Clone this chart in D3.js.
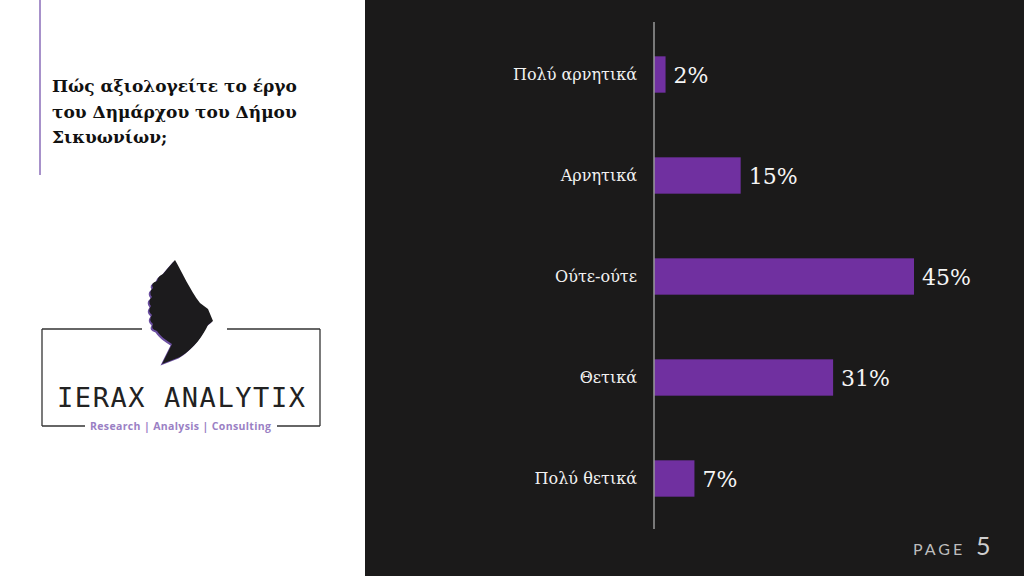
<!DOCTYPE html>
<html><head><meta charset="utf-8">
<script src="https://cdn.jsdelivr.net/npm/d3@7/dist/d3.min.js"></script>
<style>html,body{margin:0;padding:0;background:#1b1a1a;}svg{display:block;}</style>
</head><body>
<svg id="c" width="1024" height="576"></svg>
<script>
const categories = ["Πολύ αρνητικά", "Αρνητικά", "Ούτε-ούτε", "Θετικά", "Πολύ θετικά"];
const values = [2, 15, 45, 31, 7];
const valueLabels = ["2%", "15%", "45%", "31%", "7%"];
const titleLines = ["Πώς αξιολογείτε το έργο", "του Δημάρχου του Δήμου", "Σικυωνίων;"];

const svg = d3.select("#c");
// backgrounds
svg.append("rect").attr("x",0).attr("y",0).attr("width",1024).attr("height",576).attr("fill","#1b1a1a");
svg.append("rect").attr("x",0).attr("y",0).attr("width",365).attr("height",576).attr("fill","#ffffff");
svg.append("line").attr("x1",40).attr("x2",40).attr("y1",0).attr("y2",175).attr("stroke","#8a6cb8").attr("stroke-width",1.5);

// title
const t = svg.append("text").attr("font-family","'DejaVu Serif', serif").attr("font-weight","bold").attr("font-size",17).attr("fill","#111");
titleLines.forEach((l,i)=>{
  t.append("tspan").attr("x",52).attr("y",92+i*25.5).text(l);
});

// logo
const logo = svg.append("g");
const fr = {stroke:"#333", w:1.3};
function ln(x1,y1,x2,y2){logo.append("line").attr("x1",x1).attr("y1",y1).attr("x2",x2).attr("y2",y2).attr("stroke",fr.stroke).attr("stroke-width",fr.w);}
ln(42,329,142,329); ln(227,329,320,329);
ln(42,329,42,426); ln(320,329,320,426);
ln(42,426,85,426); ln(277,426,320,426);
const birdPath = "M175,260 C182,272 190,290 200,303 L208,309 L213,321 L208,325 C203,335 195,348 180,357 L162,364 L172,344 C166,340 160,336 157,331 Q150,329 153,324 Q148,320 152,315 Q147,311 151,306 Q147,301 152,297 Q148,292 153,288 Q150,283 157,281 Q158,276 163,274 L168,268 Z";
logo.append("path").attr("d",birdPath).attr("fill","#6b4fa0").attr("transform","translate(-1.5,1.5)");
logo.append("path").attr("d",birdPath).attr("fill","#1c1b1d");
logo.append("text").attr("x",57).attr("y",407).attr("font-family","'DejaVu Sans Mono', monospace").attr("font-size",27)
  .attr("fill","#222").attr("textLength",248).attr("lengthAdjust","spacing").text("IERAX ANALYTIX");
logo.append("text").attr("x",90).attr("y",430).attr("font-family","'Open Sans', sans-serif").attr("font-weight","700").attr("font-size",10.5)
  .attr("fill","#9a80c4").attr("textLength",181).attr("lengthAdjust","spacing").text("Research | Analysis | Consulting");

// chart
const x0 = 654;
const x = d3.scaleLinear().domain([0,45]).range([x0, 914]);
const y = d3.scaleBand().domain(categories).range([24,529]).paddingInner(0.64).paddingOuter(0.32);

svg.selectAll("rect.bar").data(categories).enter().append("rect").attr("class","bar")
  .attr("x",x(0)).attr("y",d=>y(d)).attr("width",(d,i)=>x(values[i])-x(0)).attr("height",y.bandwidth())
  .attr("fill","#7030a0");

const yAxis = d3.axisLeft(y).tickSize(0).tickPadding(17);
const ga = svg.append("g").attr("transform",`translate(${x0},0)`).call(yAxis);
ga.select(".domain").remove();
ga.selectAll("text").attr("font-family","'DejaVu Serif', serif").attr("font-size",16).attr("fill","#f2f2f2");
svg.append("line").attr("x1",x0).attr("x2",x0).attr("y1",22).attr("y2",529).attr("stroke","#9a9a9a").attr("stroke-width",1.5);

svg.selectAll("text.val").data(categories).enter().append("text").attr("class","val")
  .attr("x",(d,i)=>x(values[i])+8).attr("y",d=>y(d)+y.bandwidth()/2).attr("dy","0.38em")
  .attr("font-family","'DejaVu Serif', serif").attr("font-size",22).attr("fill","#f5f5f5")
  .text((d,i)=>valueLabels[i]);

// page
svg.append("text").attr("x",913).attr("y",555).attr("font-family","'Lato', sans-serif").attr("font-size",16)
  .attr("fill","#bdbdbd").attr("letter-spacing",3).text("PAGE");
svg.append("text").attr("x",976).attr("y",555).attr("font-family","'Lato', sans-serif").attr("font-size",25)
  .attr("fill","#cfcfcf").text("5");
</script>
</body></html>
